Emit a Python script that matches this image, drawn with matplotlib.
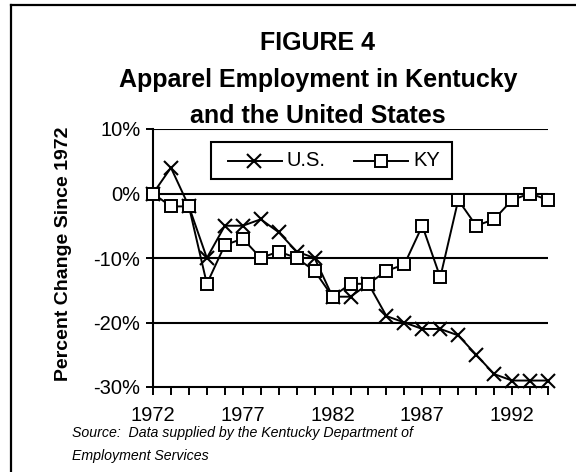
import matplotlib
matplotlib.use("Agg")
import matplotlib.pyplot as plt
from matplotlib.lines import Line2D
from matplotlib.patches import Rectangle

# Percent change since 1972
years = list(range(1972, 1995))
us_change = [0, 4, -2, -10, -5, -5, -4, -6, -9, -10, -16, -16, -14,
             -19, -20, -21, -21, -22, -25, -28, -29, -29, -29]
ky_change = [0, -2, -2, -14, -8, -7, -10, -9, -10, -12, -16, -14, -14,
             -12, -11, -5, -13, -1, -5, -4, -1, 0, -1]
year_labels = [1972, 1977, 1982, 1987, 1992]
pct_ticks = [-30, -20, -10, 0, 10]

title_lines = ["FIGURE 4", "Apparel Employment in Kentucky", "and the United States"]
source_lines = ["Source:  Data supplied by the Kentucky Department of",
                "Employment Services"]

plt.rcParams['font.family'] = ['Liberation Sans', 'DejaVu Sans']

W, H = 576, 472
fig = plt.figure(figsize=(W / 100, H / 100), dpi=100)

def px(x, y):
    """ pixel coords (top-left origin) -> figure fraction """
    return x / W, 1 - y / H

# outer frame (only top and left edges fall inside the picture)
fig.add_artist(Line2D([11 / W, 11 / W], [1 - 5 / H, 0], color='black', lw=1.6, transform=fig.transFigure))
fig.add_artist(Line2D([11 / W, 1], [1 - 5 / H, 1 - 5 / H], color='black', lw=1.6, transform=fig.transFigure))

# axes box
l, t = px(153, 129)
r, b = px(548, 387)
ax = fig.add_axes([l, b, r - l, t - b])

us_style = dict(color='black', lw=1.4, marker='x', ms=10, mew=1.5)
ky_style = dict(color='black', lw=1.4, marker='s', ms=9, mew=1.4, mfc='white')

ax.plot(years, us_change, label='U.S.', clip_on=False, zorder=3, **us_style)
ax.plot(years, ky_change, label='KY', clip_on=False, zorder=4, **ky_style)

ax.set_xlim(1972, 1994)
ax.set_ylim(-30, 10)
ax.set_yticks(pct_ticks)
ax.set_yticklabels([f"{v}%" for v in pct_ticks])
ax.set_xticks(years, minor=True)
ax.set_xticks(year_labels)
ax.set_xticklabels([str(y) for y in year_labels])

for v in pct_ticks[1:]:
    ax.axhline(v, color='black', lw=1.5, zorder=1)

for s in ['top', 'right']:
    ax.spines[s].set_visible(False)
for s in ['left', 'bottom']:
    ax.spines[s].set_linewidth(1.5)

ax.tick_params(axis='y', length=5, width=1.4, pad=4, labelsize=14.5, direction='out')
ax.tick_params(axis='x', which='both', length=5.5, width=1.4, pad=8, labelsize=14.5, direction='out')

ax.set_ylabel("Percent Change Since 1972", fontsize=14, fontweight='bold')
ax.yaxis.set_label_coords(-0.205, 0.515)

# legend box, laid out by hand to match the original spacing
x0, y0 = px(211, 179)
x1, y1 = px(452, 142)
fig.add_artist(Rectangle((x0, y0), x1 - x0, y1 - y0, transform=fig.transFigure,
                         facecolor='white', edgecolor='black', lw=1.5, zorder=5))
yl = 1 - 160.5 / H
for (xa, xm, xb, xt), style, name in [((228, 254, 282, 287), us_style, 'U.S.'),
                                      ((354, 381, 408, 413), ky_style, 'KY')]:
    st = dict(style)
    mk = {k: st.pop(k) for k in ['marker', 'ms', 'mew'] + (['mfc'] if 'mfc' in st else [])}
    fig.add_artist(Line2D([xa / W, xb / W], [yl, yl], transform=fig.transFigure, zorder=6, **st))
    fig.add_artist(Line2D([xm / W], [yl], transform=fig.transFigure, zorder=7, color='black',
                          linestyle='none', marker=mk['marker'], ms=mk['ms'], mew=mk['mew'],
                          mfc=mk.get('mfc', 'black')))
    fig.text(xt / W, yl, name, ha='left', va='center', fontsize=14.5, zorder=7)

# titles
for txt, yb in zip(title_lines, [50, 87, 123]):
    fig.text(318 / W, 1 - yb / H, txt, ha='center', va='baseline', fontsize=18, fontweight='bold')

for txt, yb in zip(source_lines, [437, 460]):
    fig.text(72 / W, 1 - yb / H, txt, ha='left', va='baseline', fontsize=10.2, style='italic')

fig.savefig("out.png", dpi=100)
